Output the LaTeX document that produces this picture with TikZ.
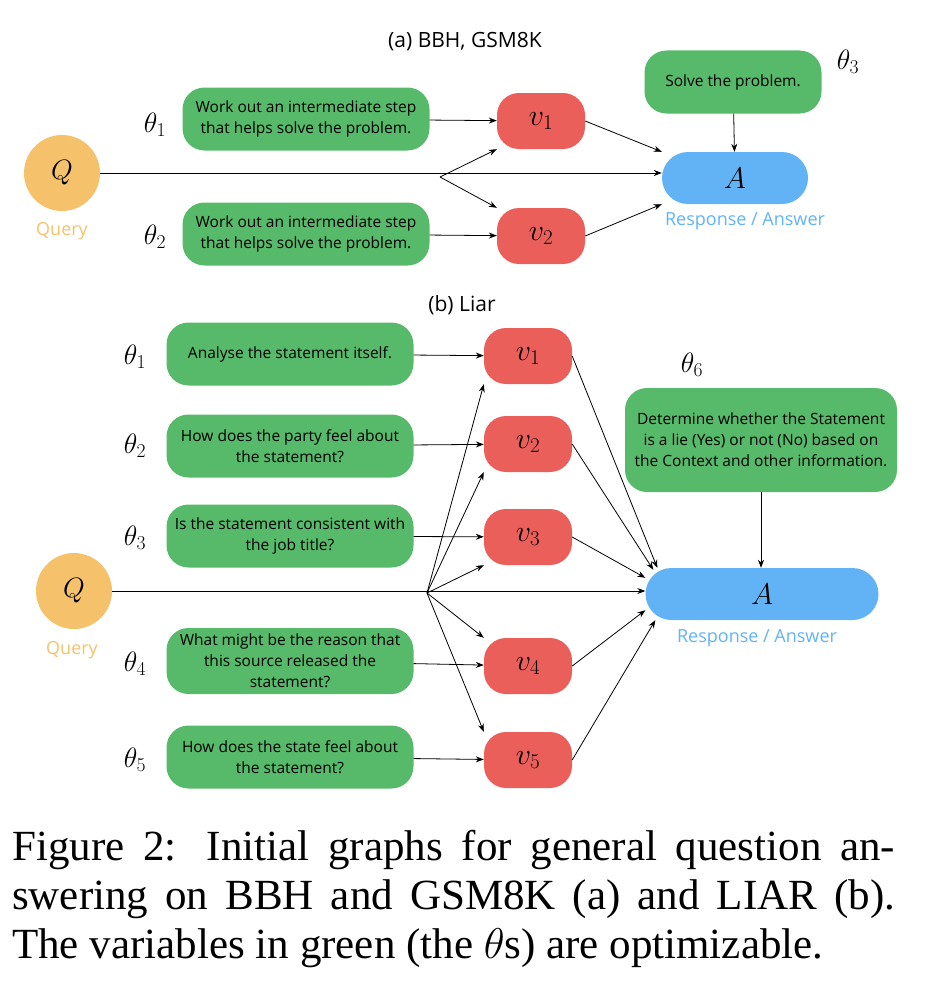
\RequirePackage{fix-cm}
\documentclass[tikz,border=0pt]{standalone}
\usepackage{fontspec}
\setmainfont{Liberation Serif}
\newfontfamily\boxfont{Open Sans}
\usetikzlibrary{arrows.meta}
\definecolor{gr}{HTML}{57BA6A}
\definecolor{rd}{HTML}{EB5F5B}
\definecolor{bl}{HTML}{61B3F6}
\definecolor{og}{HTML}{F5C26B}
\tikzset{
 gbox/.style={fill=gr,rounded corners=22pt,minimum width=247pt,minimum height=63pt,align=center,font=\boxfont\fontsize{15.5}{21}\selectfont,inner sep=2pt},
 rbox/.style={fill=rd,rounded corners=22pt,minimum width=88pt,minimum height=56pt,font=\fontsize{30}{30}\selectfont},
 abox/.style={fill=bl,rounded corners=26pt,minimum height=52pt,font=\fontsize{30}{30}\selectfont},
 qc/.style={circle,fill=og,minimum size=76pt,font=\fontsize{28}{28}\selectfont},
 lab/.style={font=\fontsize{28}{28}\selectfont},
 ttl/.style={font=\boxfont\fontsize{21}{21}\selectfont},
 arr/.style={-{Stealth[length=8pt,width=6pt]},line width=0.8pt}
}
\begin{document}
\begin{tikzpicture}[x=1pt,y=-1pt]
\useasboundingbox (0,0) rectangle (926,990);
% (a)
\node[ttl] (ta) at (465,42) {(a) BBH, GSM8K};
\node[qc] (q1) at (62,173) {$Q$};
\node[font=\boxfont\fontsize{18}{18}\selectfont,text=og] (q1l) at (62,231) {Query};
\node[gbox] (a1) at (306,119) {Work out an intermediate step\\that helps solve the problem.};
\node[gbox] (a2) at (306,234) {Work out an intermediate step\\that helps solve the problem.};
\node[lab] (la1) at (155,125) {$\theta_1$};
\node[lab] (la2) at (155,237) {$\theta_2$};
\node[rbox] (v1) at (541,121) {$v_1$};
\node[rbox] (v2) at (541,236) {$v_2$};
\node[abox,minimum width=146pt] (A1) at (735,178) {$A$};
\node[font=\boxfont\fontsize{18}{18}\selectfont,text=bl] (A1l) at (745,221) {Response / Answer};
\node[gbox,minimum width=177pt] (s3) at (733,82) {Solve the problem.};
\node[lab] (la3) at (848,62) {$\theta_3$};
\coordinate (b1) at (440,177);
\draw[arr] (q1) -- (q1.east -| A1.west);
\draw[arr] (b1) -- (v1.south west);
\draw[arr] (b1) -- (v2.north west);
\draw[arr] (a1) -- (v1);
\draw[arr] (a2) -- (v2);
\draw[arr] (v1.east) -- (A1.north west);
\draw[arr] (v2.east) -- (A1.south west);
\draw[arr] (s3) -- (A1);
% (b)
\node[ttl] (tb) at (462,305) {(b) Liar};
\node[qc] (q2) at (74,591) {$Q$};
\node[font=\boxfont\fontsize{18}{18}\selectfont,text=og] (q2l) at (72,650) {Query};
\node[gbox] (g1) at (290,354) {Analyse the statement itself.};
\node[gbox] (g2) at (290,446) {How does the party feel about\\the statement?};
\node[gbox] (g3) at (290,536) {Is the statement consistent with\\the job title?};
\node[gbox,minimum height=66pt] (g4) at (290,661) {What might be the reason that\\this source released the\\statement?};
\node[gbox] (g5) at (290,757) {How does the state feel about\\the statement?};
\foreach \i/\y in {1/357,2/446,3/538,4/664,5/760}{\node[lab] (lb\i) at (135,\y) {$\theta_{\i}$};}
\node[rbox] (w1) at (528,356) {$v_1$};
\node[rbox] (w2) at (528,444) {$v_2$};
\node[rbox] (w3) at (528,537) {$v_3$};
\node[rbox] (w4) at (528,666) {$v_4$};
\node[rbox] (w5) at (528,760) {$v_5$};
\node[abox,minimum width=233pt] (A2) at (762,594) {$A$};
\node[font=\boxfont\fontsize{18}{18}\selectfont,text=bl] (A2l) at (757,638) {Response / Answer};
\node[gbox,minimum width=272pt,minimum height=104pt] (g6) at (761,440) {Determine whether the Statement\\is a lie (Yes) or not (No) based on\\the Context and other information.};
\node[lab] (lb6) at (692,365) {$\theta_6$};
\coordinate (b2) at (427,593);
\draw[arr] (q2) -- (q2.east -| A2.west);
\foreach \i in {1,...,5}{\draw[arr] (g\i) -- (w\i);}
\draw[arr] (b2) -- (w1.south west);
\draw[arr] (b2) -- (w2.south west);
\draw[arr] (b2) -- (w3.south west);
\draw[arr] (b2) -- (w4.north west);
\draw[arr] (b2) -- (w5.north west);
\draw[arr] (w1.east) -- ([xshift=12pt]A2.north west);
\draw[arr] (w2.east) -- ([xshift=8pt,yshift=-2pt]A2.north west);
\draw[arr] (w3.east) -- ([yshift=-10pt]A2.north west);
\draw[arr] (w4.east) -- ([yshift=10pt]A2.south west);
\draw[arr] (w5.east) -- ([xshift=10pt]A2.south west);
\draw[arr] (g6) -- (A2.north -| g6);
% caption
\node[anchor=north west,inner sep=0pt,font=\fontsize{43}{49}\selectfont,align=left] (cap) at (12,830) {\makebox[883pt][s]{Figure 2: Initial graphs for general question an-}\\\makebox[883pt][s]{swering on BBH and GSM8K (a) and LIAR (b).}\\The variables in green (the $\theta$s) are optimizable.};
\end{tikzpicture}
\end{document}
